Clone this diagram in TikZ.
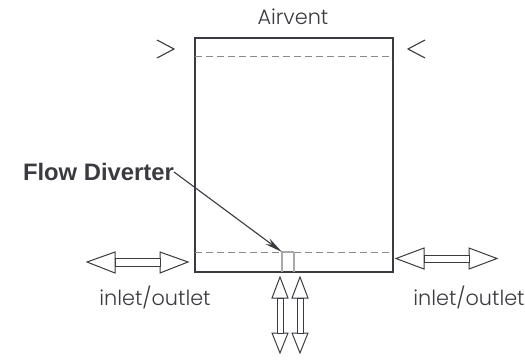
\documentclass[tikz,border=0pt]{standalone}
\usepackage{fontspec}
\setmainfont{Liberation Sans}
\newfontfamily\geo{Poppins Light}
\usetikzlibrary{arrows.meta}
\definecolor{ink}{HTML}{3A3A40}
\definecolor{dash}{HTML}{8A8A8A}
\definecolor{pale}{HTML}{A8A8A8}
\tikzset{
  x=1pt,y=-1pt,
  wall/.style={draw=ink,line width=1.3pt},
  dashline/.style={draw=dash,line width=0.9pt,dash pattern=on 7pt off 4pt},
  divider/.style={draw=pale,line width=1.3pt},
  hollow/.style={draw=ink,line width=1pt,line join=miter,fill=white},
  label/.style={inner sep=0pt,text=ink,anchor=base,font=\geo\fontsize{20.8}{23}\selectfont},
  vee/.style={draw=ink,line width=1.1pt},
}
\begin{document}
\begin{tikzpicture}
\useasboundingbox (0,0) rectangle (525,360);
\node[label] (air) at (293,24) {Airvent};
\node[label] (io1) at (155,305) {inlet/outlet};
\node[label] (io2) at (469,305) {inlet/outlet};
\node[inner sep=0pt,anchor=east,text=ink,font=\fontsize{23.8}{26}\selectfont\bfseries] (fd) at (174,172) {Flow Diverter};
% chamber
\coordinate (tl) at (195,38); \coordinate (br) at (393,272);
\draw[wall] (tl) rectangle (br);
\coordinate (d1a) at (195,56); \coordinate (d1b) at (393,56);
\coordinate (d2a) at (195,252); \coordinate (d2b) at (393,252);
\draw[dashline] (d1a) -- (d1b);
\draw[dashline] (d2a) -- (d2b);
% diverter
\coordinate (v1) at (282,252); \coordinate (v2) at (282,272);
\coordinate (v3) at (294,252); \coordinate (v4) at (294,272);
\draw[divider] (v1) -- (v2);
\draw[divider] (v3) -- (v4);
\draw[divider] (v1) -- (v3);
\draw[line width=1.1pt,draw=ink,-{Stealth[length=18pt,width=7pt]}] (fd.east) -- (v1);
% top vees
\draw[vee] (157,40) -- (174,49) -- (157,58);
\draw[vee] (425,40) -- (408,49) -- (425,58);
% left double arrow
\draw[hollow] (115,252) -- (115,273) -- (87,262) -- cycle;
\draw[hollow] (160,252) -- (160,273) -- (188,262) -- cycle;
\draw[hollow] (115,258) rectangle (160,266);
% right double arrow
\draw[hollow] (424,248) -- (424,269) -- (396,258.5) -- cycle;
\draw[hollow] (469,248) -- (469,269) -- (497,258.5) -- cycle;
\draw[hollow] (424,255) rectangle (469,262);
% bottom double arrows
\foreach \c in {280,300}{
  \draw[hollow] (\c-8,298) -- (\c+8,298) -- (\c,277) -- cycle;
  \draw[hollow] (\c-8,333) -- (\c+8,333) -- (\c,353) -- cycle;
  \draw[hollow] (\c-3,298) rectangle (\c+3,333);
}
\end{tikzpicture}
\end{document}
